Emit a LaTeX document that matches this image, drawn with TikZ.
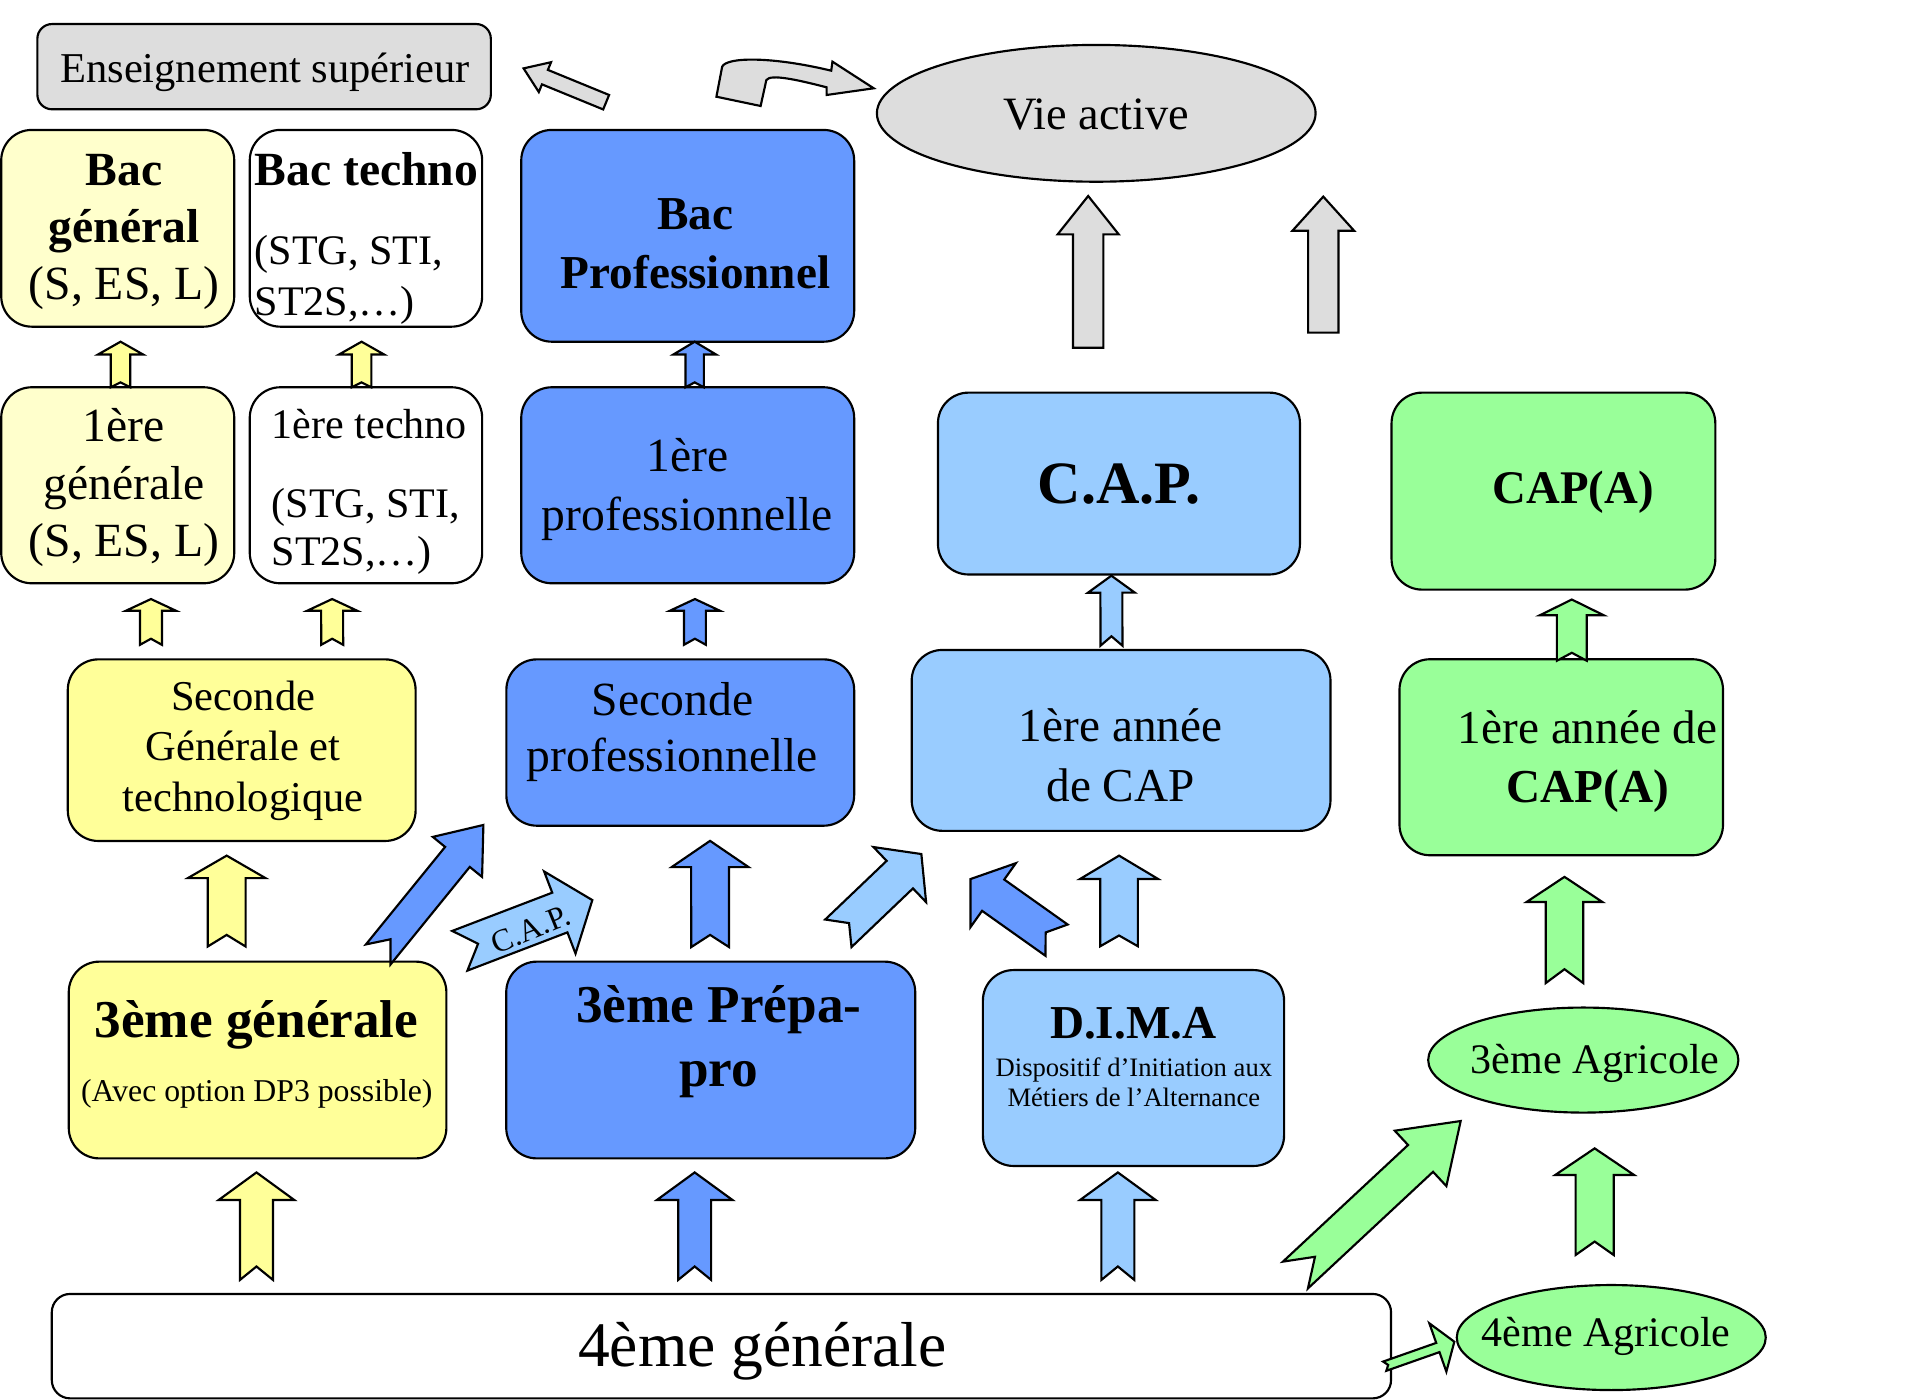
\documentclass[tikz,border=0pt]{standalone}
\usepackage{fontspec}
\setmainfont{Liberation Serif}
\usetikzlibrary{calc,shapes.geometric}

\definecolor{grisclair}{HTML}{DDDDDD}
\definecolor{jaunepale}{HTML}{FFFFCC}
\definecolor{jaune}{HTML}{FFFF99}
\definecolor{bleu}{HTML}{6699FF}
\definecolor{bleuclair}{HTML}{99CCFF}
\definecolor{vert}{HTML}{99FF99}

\tikzset{
  boite/.style={draw, line width=0.5pt, rounded corners=2.5mm, inner sep=0pt, outer sep=0pt},
  ovale/.style={draw, ellipse, line width=0.5pt, inner sep=0pt, outer sep=0pt},
  texte/.style={inner sep=0pt, anchor=base, align=center},
  fleche/.style={draw, line width=0.5pt, line join=miter}
}

% [fill]{tail}{tip}{shaft half width}{head half width}{head length}{notch}
\newcommand{\blocfleche}[7][bleu]{%
  \coordinate (bq) at (#2);
  \coordinate (bt) at (#3);
  \coordinate (bb) at ($(bt)!#6!(bq)$);
  \draw[fleche, fill=#1] ($(bq)!#4!90:(bt)$) -- ($(bb)!#4!90:(bt)$) -- ($(bb)!#5!90:(bt)$) -- (bt)
    -- ($(bb)!#5!-90:(bt)$) -- ($(bb)!#4!-90:(bt)$) -- ($(bq)!#4!-90:(bt)$) -- ($(bq)!#7!(bt)$) -- cycle;
}

\begin{document}
\begin{tikzpicture}[x=0.1mm, y=0.1mm]
	\useasboundingbox (0,0) rectangle (1568,-1146);
	\node[boite, fill=grisclair, rounded corners=1.2mm, minimum width=37.13mm, minimum height=6.98mm] (ens) at (216.25,-54.6) {};
	\node[boite, fill=jaunepale, minimum width=19.08mm, minimum height=16.11mm] (bacg) at (96.4,-186.95) {};
	\node[boite, fill=white, minimum width=19.03mm, minimum height=16.11mm] (bact) at (299.65,-186.95) {};
	\node[boite, fill=bleu, minimum width=27.26mm, minimum height=17.34mm] (bacp) at (563.1,-193.1) {};
	\node[boite, fill=jaunepale, minimum width=19.08mm, minimum height=16.05mm] (premg) at (96.4,-397.35) {};
	\node[boite, fill=white, minimum width=19.03mm, minimum height=16.05mm] (premt) at (299.65,-397.35) {};
	\node[boite, fill=bleu, minimum width=27.26mm, minimum height=16.05mm] (premp) at (563.1,-397.35) {};
	\node[boite, fill=bleuclair, minimum width=29.64mm, minimum height=14.89mm] (cap) at (916.2,-395.95) {};
	\node[boite, fill=vert, minimum width=26.51mm, minimum height=16.13mm] (capa) at (1271.95,-402.15) {};
	\node[boite, fill=jaune, minimum width=28.48mm, minimum height=14.87mm] (secg) at (197.9,-614.25) {};
	\node[boite, fill=bleu, minimum width=28.48mm, minimum height=13.62mm] (secp) at (557,-608) {};
	\node[boite, fill=bleuclair, minimum width=34.29mm, minimum height=14.81mm] (anncap) at (917.95,-606.25) {};
	\node[boite, fill=vert, minimum width=26.49mm, minimum height=16.05mm] (anncapa) at (1278.35,-620.05) {};
	\node[boite, fill=jaune, minimum width=30.92mm, minimum height=16.11mm] (terg) at (210.9,-867.95) {};
	\node[boite, fill=bleu, minimum width=33.49mm, minimum height=16.11mm] (terp) at (581.95,-867.95) {};
	\node[boite, fill=bleuclair, minimum width=24.66mm, minimum height=16.04mm] (dima) at (928.1,-874.5) {};
	\node[boite, fill=white, rounded corners=1.5mm, minimum width=109.66mm, minimum height=8.55mm] (quat) at (590.7,-1102.25) {};
	\node[ovale, fill=grisclair, minimum width=35.92mm, minimum height=11.2mm] (vie) at (897.6,-92.8) {};
	\node[ovale, fill=vert, minimum width=25.4mm, minimum height=8.6mm] (ter3a) at (1296.4,-868) {};
	\node[ovale, fill=vert, minimum width=25.3mm, minimum height=8.6mm] (quata) at (1319.3,-1095.2) {};

	\blocfleche[grisclair]{$(bacp.north west)+(69.5,22.7)$}{$(ens.east)+(26.8,-1.4)$}{0.64mm}{1.32mm}{1.89mm}{0mm}
	\begin{scope}[shift={(bacp.north)}]
		\draw[fleche, fill=grisclair] (23.5,27.2) -- (28.2,51.8) .. controls (32,60) and (70,60) .. (117.5,48.5) -- (118.5,55.9) -- (152.3,34.1) -- (113.7,28.6) -- (113.7,34.9) .. controls (90,41) and (68,46) .. (64.4,40.9) -- (59.7,19.6) -- cycle;
	\end{scope}
	\blocfleche[grisclair]{$(cap.north)+(-25.2,36.8)$}{$(vie.south)+(-6.6,-11.7)$}{1.24mm}{2.5mm}{3.14mm}{0mm}
	\blocfleche[grisclair]{$(capa.north west)+(-55.9,49.1)$}{$(vie.south)+(185.9,-12.2)$}{1.24mm}{2.53mm}{2.8mm}{0mm}
	\blocfleche[jaune]{$(premg.north)+(2.3,0)$}{$(bacg.south)+(2.3,-12.3)$}{0.8mm}{1.85mm}{1.05mm}{0.4mm}
	\blocfleche[jaune]{$(premt.north)+(-3.6,0)$}{$(bact.south)+(-3.6,-12.3)$}{0.8mm}{1.85mm}{1.05mm}{0.4mm}
	\blocfleche[bleu]{$(premp.north)+(5.7,0)$}{$(bacp.south)+(5.7,0)$}{0.75mm}{1.75mm}{1.05mm}{0.4mm}
	\blocfleche[jaune]{$(secg.north)+(-74.3,11.9)$}{$(premg.south)+(27.2,-12.9)$}{0.9mm}{2.05mm}{0.96mm}{0.5mm}
	\blocfleche[jaune]{$(secg.north)+(74.1,11.9)$}{$(premt.south)+(-27.7,-12.9)$}{0.9mm}{2.05mm}{0.96mm}{0.5mm}
	\blocfleche[bleu]{$(secp.north)+(12,11.9)$}{$(premp.south)+(5.9,-12.9)$}{0.9mm}{2.05mm}{0.96mm}{0.5mm}
	\blocfleche[bleuclair]{$(anncap.north)+(-7.9,3.5)$}{$(cap.south)+(-6.2,-1)$}{0.9mm}{1.92mm}{1.39mm}{0.77mm}
	\blocfleche[vert]{$(anncapa.north)+(8.65,-1.2)$}{$(capa.south)+(15.05,-8.1)$}{1.22mm}{2.62mm}{1.29mm}{0.65mm}
	\blocfleche[jaune]{$(terg.north)+(-25.3,12.4)$}{$(secg.south)+(-12.3,-12)$}{1.55mm}{3.18mm}{1.84mm}{0.95mm}
	\blocfleche[bleu]{$(terg.north east)+(-55.8,5.9)$}{$(secp.south west)+(-18.8,0.6)$}{1.3mm}{2.6mm}{3.37mm}{1.6mm}
	\blocfleche[bleuclair]{$(terg.north east)+(11,8.9)$}{$(terp.north west)+(70.5,50.4)$}{1.74mm}{3.6mm}{2.85mm}{1.6mm}
	\node[inner sep=0pt, rotate=22, font=\fontsize{7.4}{8}\selectfont] (caplbl) at ($(terg.north east)+(69.1,26.6)$) {C.A.P.};
	\blocfleche[bleu]{$(terp.north)+(-0.5,11.9)$}{$(secp.south)+(24.4,-12.4)$}{1.55mm}{3.15mm}{2.15mm}{1mm}
	\blocfleche[bleuclair]{$(terp.north)+(104.5,23.2)$}{$(anncap.south west)+(7.9,-19)$}{1.56mm}{3.12mm}{2.44mm}{1.21mm}
	\blocfleche[bleu]{$(dima.north west)+(60.3,24.5)$}{$(anncap.south west)+(48.1,-39.5)$}{1.57mm}{3.21mm}{2.28mm}{1.09mm}
	\blocfleche[bleuclair]{$(dima.north)+(-11.8,19.5)$}{$(anncap.south)+(-1.65,-20.3)$}{1.54mm}{3.19mm}{1.91mm}{0.88mm}
	\blocfleche[vert]{$(ter3a.north)+(-15.4,20)$}{$(anncapa.south)+(2.65,-17.7)$}{1.54mm}{3.11mm}{2.06mm}{1.14mm}
	\blocfleche[jaune]{$(terg.south |- quat.north)+(-0.9,11.5)$}{$(terg.south)+(-0.9,-11.5)$}{1.35mm}{3.1mm}{2.26mm}{1.1mm}
	\blocfleche[bleu]{$(terp.south |- quat.north)+(-13.15,11.5)$}{$(terp.south)+(-13.15,-11.5)$}{1.35mm}{3.1mm}{2.26mm}{1.1mm}
	\blocfleche[bleuclair]{$(dima.south |- quat.north)+(-12.8,11.5)$}{$(dima.south)+(-12.8,-5.3)$}{1.35mm}{3.1mm}{2.26mm}{1.1mm}
	\blocfleche[vert]{$(quat.north east)+(-78.3,15.5)$}{$(ter3a.south)+(-100.4,-6.9)$}{1.5mm}{3.1mm}{4.49mm}{2.19mm}
	\blocfleche[vert]{$(quata.north)+(-13.6,24.6)$}{$(ter3a.south)+(9.3,-29.3)$}{1.56mm}{3.23mm}{2.18mm}{1.1mm}
	\blocfleche[vert]{$(quat.east)+(-5.2,-16.4)$}{$(quata.west)+(-2,-3.4)$}{0.4mm}{2.1mm}{1.43mm}{0.3mm}

	\node[texte, font=\fontsize{9.9}{11.9}\selectfont] (ens-t) at (217,-67.4) {Enseignement supérieur};
	\node[texte, font=\fontsize{10.8}{13}\selectfont] (vie-t) at (897.6,-106.4) {Vie active};
	\node[texte, font=\fontsize{11.1}{13.3}\selectfont] (bacg-t) at (101.6,-245.6) {\textbf{Bac}\\\textbf{général}\\(S, ES, L)};
	\node[texte, anchor=base west, font=\fontsize{11.1}{13.3}\selectfont\bfseries] (bact-t) at (207.8,-152) {Bac techno};
	\node[texte, anchor=base west, align=left, font=\fontsize{9.8}{11.7}\selectfont] (bact-s) at (207.8,-258) {(STG, STI,\\ST2S,…)};
	\node[texte, font=\fontsize{11}{13.6}\selectfont\bfseries] (bacp-t) at (569.5,-236) {Bac\\Professionnel};
	\node[texte, font=\fontsize{11.1}{13.4}\selectfont] (premg-t) at (101.5,-455.8) {1ère\\générale\\(S, ES, L)};
	\node[texte, anchor=base west, font=\fontsize{9.8}{11.7}\selectfont] (premt-t) at (221.9,-358.9) {1ère techno};
	\node[texte, anchor=base west, align=left, font=\fontsize{9.8}{11.1}\selectfont] (premt-s) at (221.9,-463) {(STG, STI,\\ST2S,…)};
	\node[texte, font=\fontsize{11.1}{13.6}\selectfont] (premp-t) at (562.9,-434) {1ère\\professionnelle};
	\node[texte, font=\fontsize{14}{16}\selectfont\bfseries] (cap-t) at (916.5,-412.2) {C.A.P.};
	\node[texte, font=\fontsize{10.9}{13}\selectfont\bfseries] (capa-t) at (1288,-412.2) {CAP(A)};
	\node[texte, font=\fontsize{9.9}{11.8}\selectfont] (secg-t) at (199.1,-664.5) {Seconde\\Générale et\\technologique};
	\node[texte, font=\fontsize{11.1}{13.2}\selectfont] (secp-t) at (550.6,-631.9) {Seconde\\professionnelle};
	\node[texte, font=\fontsize{11}{13.8}\selectfont] (anncap-t) at (917.5,-656) {1ère année\\de CAP};
	\node[texte, font=\fontsize{11}{13.8}\selectfont] (anncapa-t) at (1300,-657.5) {1ère année de\\\textbf{CAP(A)}};
	\node[texte, font=\fontsize{12.4}{14.9}\selectfont\bfseries] (terg-t) at (210,-849.4) {3ème générale};
	\node[texte, font=\fontsize{7.4}{8.9}\selectfont] (terg-s) at (210.3,-902) {(Avec option DP3 possible)};
	\node[texte, font=\fontsize{12.4}{14.9}\selectfont\bfseries] (terp-t) at (588.5,-889.8) {3ème Prépa-\\pro};
	\node[texte, font=\fontsize{11}{13.2}\selectfont\bfseries] (dima-t) at (928,-850.2) {D.I.M.A};
	\node[texte, font=\fontsize{6.2}{7.1}\selectfont] (dima-s) at (928.4,-906.1) {Dispositif d’Initiation aux\\Métiers de l’Alternance};
	\node[texte, font=\fontsize{9.8}{11.8}\selectfont] (ter3a-t) at (1306,-878.9) {3ème Agricole};
	\node[texte, font=\fontsize{9.8}{11.8}\selectfont] (quata-t) at (1315,-1102.7) {4ème Agricole};
	\node[texte, font=\fontsize{14.8}{17.8}\selectfont] (quat-t) at (624.3,-1118.5) {4ème générale};
\end{tikzpicture}
\end{document}
